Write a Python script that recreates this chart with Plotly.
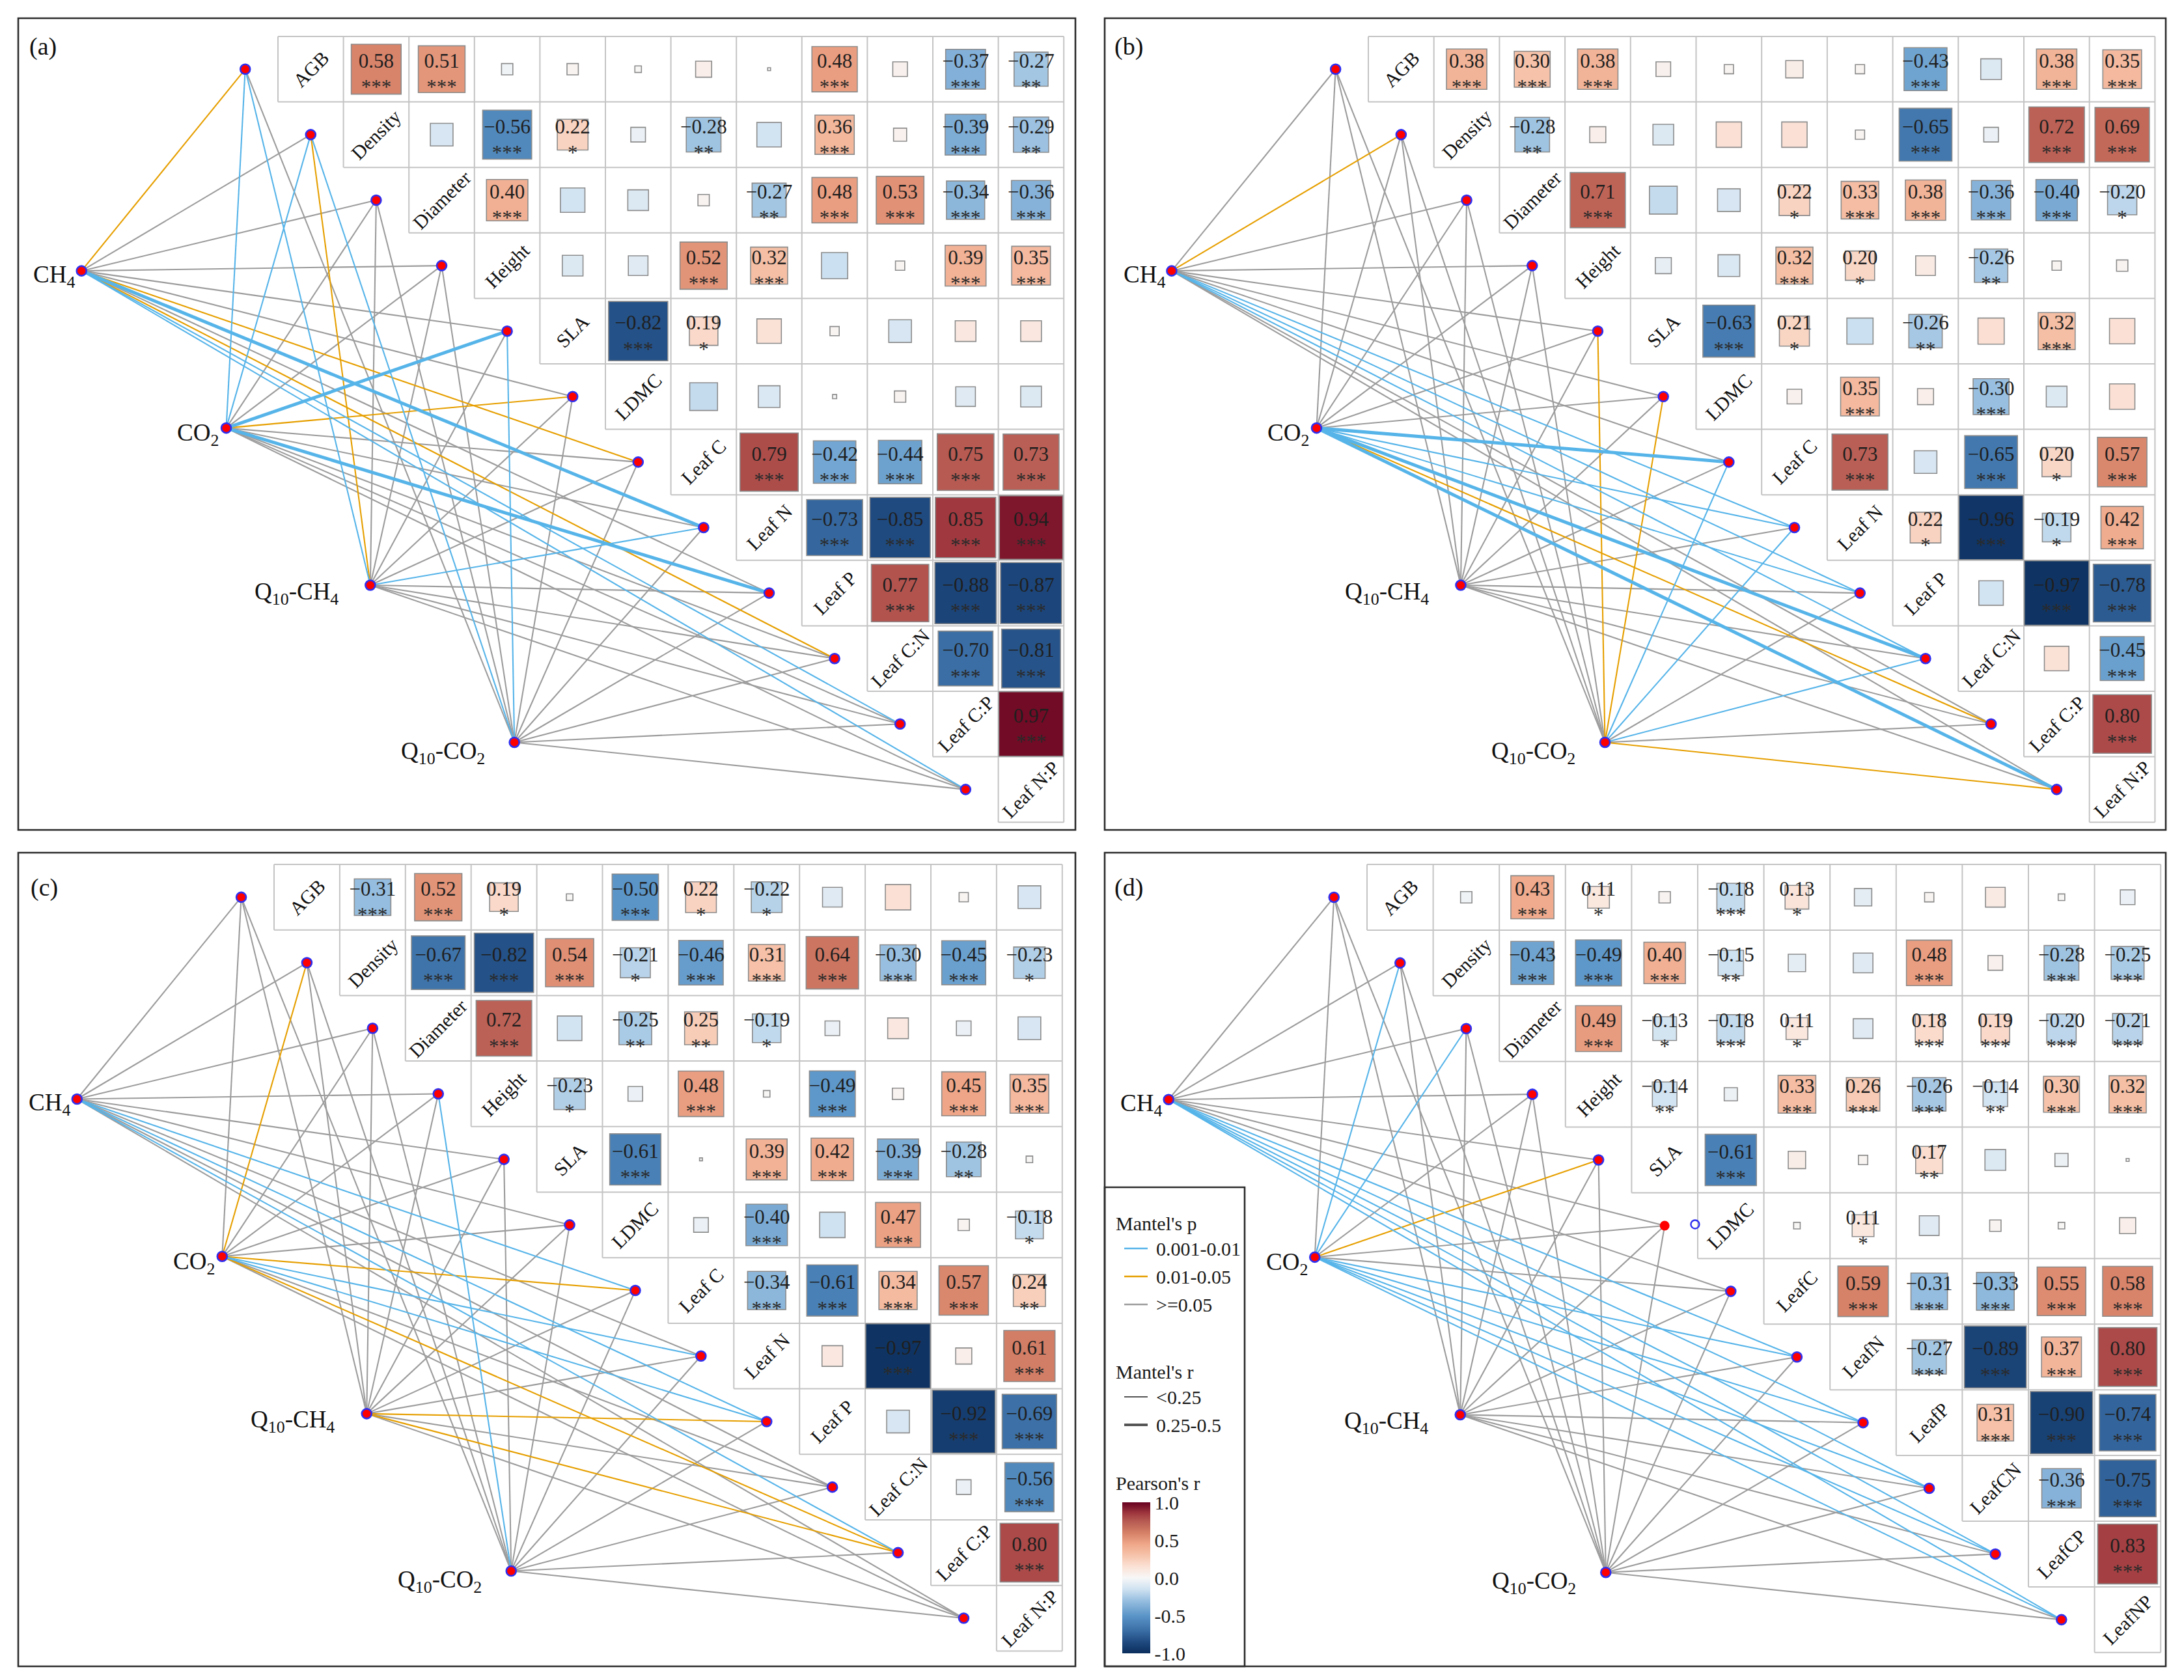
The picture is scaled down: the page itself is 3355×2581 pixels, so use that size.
import math
import plotly.graph_objects as go

W, H = 3355, 2581
FONT = "Liberation Serif"
MINUS = "\u2212"

# ---------------- data ----------------
traits_abc = ["AGB", "Density", "Diameter", "Height", "SLA", "LDMC",
              "Leaf C", "Leaf N", "Leaf P", "Leaf C:N", "Leaf C:P", "Leaf N:P"]
traits_d = ["AGB", "Density", "Diameter", "Height", "SLA", "LDMC",
            "LeafC", "LeafN", "LeafP", "LeafCN", "LeafCP", "LeafNP"]
flux_labels = ["CH<sub>4</sub>", "CO<sub>2</sub>",
               "Q<sub>10</sub>-CH<sub>4</sub>", "Q<sub>10</sub>-CO<sub>2</sub>"]

# Pearson's r, upper triangle, row i holds columns i+1..11
r_a = [
    [0.58, 0.51, -0.03, 0.03, 0.01, 0.06, 0.002, 0.48, 0.05, -0.37, -0.27],
    [-0.12, -0.56, 0.22, -0.05, -0.28, -0.14, 0.36, 0.04, -0.39, -0.29],
    [0.40, -0.14, -0.10, 0.03, -0.27, 0.48, 0.53, -0.34, -0.36],
    [-0.10, -0.09, 0.52, 0.32, -0.16, 0.02, 0.39, 0.35],
    [-0.82, 0.19, 0.14, 0.02, -0.12, 0.10, 0.10],
    [-0.18, -0.11, 0.004, 0.03, -0.09, -0.10],
    [0.79, -0.42, -0.44, 0.75, 0.73],
    [-0.73, -0.85, 0.85, 0.94],
    [0.77, -0.88, -0.87],
    [-0.70, -0.81],
    [0.97],
]
sig_a = [
    ["***", "***", "", "", "", "", "", "***", "", "***", "**"],
    ["", "***", "*", "", "**", "", "***", "", "***", "**"],
    ["***", "", "", "", "**", "***", "***", "***", "***"],
    ["", "", "***", "***", "", "", "***", "***"],
    ["***", "*", "", "", "", "", ""],
    ["", "", "", "", "", ""],
    ["***", "***", "***", "***", "***"],
    ["***", "***", "***", "***"],
    ["***", "***", "***"],
    ["***", "***"],
    ["***"],
]
r_b = [
    [0.38, 0.30, 0.38, 0.05, 0.02, 0.07, 0.02, -0.43, -0.10, 0.38, 0.35],
    [-0.28, 0.06, -0.10, 0.15, 0.15, 0.02, -0.65, -0.05, 0.72, 0.69],
    [0.71, -0.18, -0.12, 0.22, 0.33, 0.38, -0.36, -0.40, -0.20],
    [-0.06, -0.11, 0.32, 0.20, 0.09, -0.26, 0.02, 0.03],
    [-0.63, 0.21, -0.16, -0.26, 0.16, 0.32, 0.15],
    [0.05, 0.35, 0.06, -0.30, -0.10, 0.15],
    [0.73, -0.12, -0.65, 0.20, 0.57],
    [0.22, -0.96, -0.19, 0.42],
    [-0.14, -0.97, -0.78],
    [0.14, -0.45],
    [0.80],
]
sig_b = [
    ["***", "***", "***", "", "", "", "", "***", "", "***", "***"],
    ["**", "", "", "", "", "", "***", "", "***", "***"],
    ["***", "", "", "*", "***", "***", "***", "***", "*"],
    ["", "", "***", "*", "", "**", "", ""],
    ["***", "*", "", "**", "", "***", ""],
    ["", "***", "", "***", "", ""],
    ["***", "", "***", "*", "***"],
    ["*", "***", "*", "***"],
    ["", "***", "***"],
    ["", "***"],
    ["***"],
]
r_c = [
    [-0.31, 0.52, 0.19, 0.01, -0.50, 0.22, -0.22, -0.09, 0.15, 0.02, -0.12],
    [-0.67, -0.82, 0.54, -0.21, -0.46, 0.31, 0.64, -0.30, -0.45, -0.23],
    [0.72, -0.14, -0.25, 0.25, -0.19, -0.05, 0.10, -0.05, -0.12],
    [-0.23, -0.05, 0.48, 0.01, -0.49, 0.03, 0.45, 0.35],
    [-0.61, 0.002, 0.39, 0.42, -0.39, -0.28, 0.01],
    [-0.05, -0.40, -0.15, 0.47, 0.03, -0.18],
    [-0.34, -0.61, 0.34, 0.57, 0.24],
    [0.10, -0.97, 0.06, 0.61],
    [-0.12, -0.92, -0.69],
    [-0.05, -0.56],
    [0.80],
]
sig_c = [
    ["***", "***", "*", "", "***", "*", "*", "", "", "", ""],
    ["***", "***", "***", "*", "***", "***", "***", "***", "***", "*"],
    ["***", "", "**", "**", "*", "", "", "", ""],
    ["*", "", "***", "", "***", "", "***", "***"],
    ["***", "", "***", "***", "***", "**", ""],
    ["", "***", "", "***", "", "*"],
    ["***", "***", "***", "***", "**"],
    ["", "***", "", "***"],
    ["", "***", "***"],
    ["", "***"],
    ["***"],
]
r_d = [
    [-0.03, 0.43, 0.11, 0.03, -0.18, 0.13, -0.07, 0.02, 0.09, 0.01, -0.05],
    [-0.43, -0.49, 0.40, -0.15, -0.07, -0.09, 0.48, 0.05, -0.28, -0.25],
    [0.49, -0.13, -0.18, 0.11, -0.09, 0.18, 0.19, -0.20, -0.21],
    [-0.14, -0.04, 0.33, 0.26, -0.26, -0.14, 0.30, 0.32],
    [-0.61, 0.07, 0.02, 0.17, -0.10, -0.04, 0.002],
    [0.01, 0.11, -0.09, 0.03, 0.01, 0.06],
    [0.59, -0.31, -0.33, 0.55, 0.58],
    [-0.27, -0.89, 0.37, 0.80],
    [0.31, -0.90, -0.74],
    [-0.36, -0.75],
    [0.83],
]
sig_d = [
    ["", "***", "*", "", "***", "*", "", "", "", "", ""],
    ["***", "***", "***", "**", "", "", "***", "", "***", "***"],
    ["***", "*", "***", "*", "", "***", "***", "***", "***"],
    ["**", "", "***", "***", "***", "**", "***", "***"],
    ["***", "", "", "**", "", "", ""],
    ["", "*", "", "", "", ""],
    ["***", "***", "***", "***", "***"],
    ["***", "***", "***", "***"],
    ["***", "***", "***"],
    ["***", "***"],
    ["***"],
]

# Mantel's p class per flux (rows) x trait (chars): b 0.001-0.01, o 0.01-0.05, g >=0.05
mp_a = ["ogggggobgobb", "bbggboggbggg", "bogggggbgggg", "gbggbggggggg"]
mp_b = ["gogggggbbbgg", "ggggggbbbbob", "gggggggggggg", "ggggoobbgbgo"]
mp_c = ["ggggggbgbgbg", "goggggobbgog", "ggggggggogog", "gggbgggggggg"]
mp_d = ["gggggggbbbbb", "gbbgoggbbbbb", "gggggggggggg", "gggggggggggg"]
# Mantel's r class: 0 <0.25, 1 0.25-0.5
mr_a = ["000000010000", "000010001000", "000000000000", "000000000000"]
mr_b = ["000000000000", "000000100101", "000000000000", "000000000000"]
mr_c = ["000000000000", "000000000000", "000000000000", "000000000000"]
mr_d = ["000000000000", "000000000000", "000000000000", "000000000000"]

p_legend = ["0.001-0.01", "0.01-0.05", ">=0.05"]
r_legend = ["<0.25", "0.25-0.5"]
cbar_ticks = [-1.0, -0.5, 0.0, 0.5, 1.0]

# ---------------- styling ----------------
P_COL = {"b": "#56B4E9", "o": "#E69F00", "g": "#9C9C9C"}
R_W = {"0": 2.1, "1": 5.0}
cs_pts = [(-1.0, "#0B2E5C"), (-0.85, "#1F4A80"), (-0.7, "#3A6EA5"), (-0.5, "#5B95C8"),
          (-0.3, "#98BFE0"), (-0.15, "#CFE2F1"), (0.0, "#F7F7F7"), (0.15, "#FBE1D5"),
          (0.3, "#F6C3AA"), (0.45, "#EFA688"), (0.6, "#D47F66"), (0.75, "#B65A52"),
          (0.85, "#A0393F"), (1.0, "#67001F")]
CS = [[(v + 1) / 2, c] for v, c in cs_pts]

# flux node positions in cell units (same layout in every panel)
node_x = [-3.0, -0.79, 1.41, 3.61]
node_y = [3.58, 5.98, 8.38, 10.78]
lab_x = [-3.08, -0.88, 0.94, 3.18]
lab_y = [3.66, 6.08, 8.5, 10.94]

panels = [
    dict(tag="(a)", r=r_a, sig=sig_a, mp=mp_a, mr=mr_a, labels=traits_abc,
         box=(28, 28, 1652, 1275), origin=(427, 56), cell=(100.6, 100.6), tagpos=(43, 72)),
    dict(tag="(b)", r=r_b, sig=sig_b, mp=mp_b, mr=mr_b, labels=traits_abc,
         box=(1697, 28, 3327, 1275), origin=(2102, 56), cell=(100.7, 100.6), tagpos=(1710, 72)),
    dict(tag="(c)", r=r_c, sig=sig_c, mp=mp_c, mr=mr_c, labels=traits_abc,
         box=(28, 1310, 1652, 2560), origin=(421, 1328), cell=(100.9, 100.7), tagpos=(45, 1363)),
    dict(tag="(d)", r=r_d, sig=sig_d, mp=mp_d, mr=mr_d, labels=traits_d,
         box=(1697, 1310, 3327, 2560), origin=(2100, 1328), cell=(101.6, 100.9), tagpos=(1710, 1363)),
]


def fmt(v):
    s = f"{abs(v):.2f}"
    return (MINUS + s) if v < 0 else s


fig = go.Figure()
annotations = []
shapes = []

for k, P in enumerate(panels):
    sfx = "" if k == 0 else str(k + 1)
    xa, ya = "x" + sfx, "y" + sfx
    bx0, by0, bx1, by1 = P["box"]
    ox, oy = P["origin"]
    cx, cy = P["cell"]
    fig.update_layout(**{
        f"xaxis{sfx}": dict(domain=[bx0 / W, bx1 / W], range=[(bx0 - ox) / cx, (bx1 - ox) / cx],
                            visible=False, fixedrange=True, anchor=ya),
        f"yaxis{sfx}": dict(domain=[1 - by1 / H, 1 - by0 / H], range=[(by1 - oy) / cy, (by0 - oy) / cy],
                            visible=False, fixedrange=True, anchor=xa),
    })
    # panel border
    shapes.append(dict(type="rect", xref="paper", yref="paper", x0=bx0 / W, x1=bx1 / W,
                       y0=1 - by1 / H, y1=1 - by0 / H, line=dict(color="#2b2b2b", width=2.6)))
    # grid of the upper triangle
    gx, gy = [], []
    for g in range(13):
        xs = 0 if g == 0 else g - 1
        gx += [xs, 12, None]
        gy += [g, g, None]
        ye = 12 if g == 12 else g + 1
        gx += [g, g, None]
        gy += [0, ye, None]
    fig.add_trace(go.Scatter(x=gx, y=gy, mode="lines", xaxis=xa, yaxis=ya,
                             line=dict(color="#C4C4C4", width=2), hoverinfo="skip"))
    # Mantel links
    for pc in ["g", "o", "b"]:
        for rc in ["0", "1"]:
            lx, ly = [], []
            for n in range(4):
                for t in range(12):
                    if P["mp"][n][t] == pc and P["mr"][n][t] == rc:
                        lx += [node_x[n], t - 0.5, None]
                        ly += [node_y[n], t + 0.5, None]
            if lx:
                fig.add_trace(go.Scatter(x=lx, y=ly, mode="lines", xaxis=xa, yaxis=ya,
                                         line=dict(color=P_COL[pc], width=R_W[rc]), hoverinfo="skip"))
    # correlation squares
    sx, sy, ss, sc = [], [], [], []
    vx, vy, vt, stx, sty, stt = [], [], [], [], [], []
    cmin_px = min(cx, cy)
    for i, row in enumerate(P["r"]):
        for m, v in enumerate(row):
            j = i + 1 + m
            sx.append(j + 0.5)
            sy.append(i + 0.5)
            ss.append(max(cmin_px * math.sqrt(abs(v)), 1.0))
            sc.append(v)
            s = P["sig"][i][m]
            if s:
                vx.append(j + 0.5); vy.append(i + 0.5 - 0.1); vt.append(fmt(v))
                stx.append(j + 0.5); sty.append(i + 0.5 + 0.3); stt.append(s)
    sq = dict(symbol="square", size=ss, color=sc, colorscale=CS, cmin=-1, cmax=1,
              line=dict(color="#8C8C8C", width=1.6), opacity=1)
    if k == 3:
        sq.update(showscale=True, colorbar=dict(
            x=1724 / W, xanchor="left", y=1 - 2540 / H, yanchor="bottom",
            len=232, lenmode="pixels", thickness=43, thicknessmode="pixels",
            outlinewidth=0, xpad=0, ypad=0, ticks="", tickvals=cbar_ticks,
            ticktext=[f"{t:.1f}" for t in cbar_ticks],
            tickfont=dict(family=FONT, size=30, color="#1a1a1a")))
    else:
        sq.update(showscale=False)
    fig.add_trace(go.Scatter(x=sx, y=sy, mode="markers", xaxis=xa, yaxis=ya,
                             marker=sq, hoverinfo="skip"))
    fig.add_trace(go.Scatter(x=vx, y=vy, mode="text", text=vt, xaxis=xa, yaxis=ya,
                             textposition="middle center",
                             textfont=dict(family=FONT, size=31, color="#1f1f1f"), hoverinfo="skip"))
    fig.add_trace(go.Scatter(x=stx, y=sty, mode="text", text=stt, xaxis=xa, yaxis=ya,
                             textposition="middle center",
                             textfont=dict(family=FONT, size=31, color="#2a2a2a"), hoverinfo="skip"))
    # diagonal trait labels
    for i, lab in enumerate(P["labels"]):
        annotations.append(dict(x=i + 0.5, y=i + 0.5, xref=xa, yref=ya, text=lab, showarrow=False,
                                textangle=-45, font=dict(family=FONT, size=30, color="#111111"),
                                xanchor="center", yanchor="middle"))
    # flux labels
    for n in range(4):
        annotations.append(dict(x=lab_x[n], y=lab_y[n], xref=xa, yref=ya, text=flux_labels[n],
                                showarrow=False, xanchor="right", yanchor="middle",
                                font=dict(family=FONT, size=37, color="#111111")))
    # panel tag
    tx, ty = P["tagpos"]
    annotations.append(dict(x=tx / W, y=1 - ty / H, xref="paper", yref="paper", text=P["tag"],
                            showarrow=False, xanchor="left", yanchor="middle",
                            font=dict(family=FONT, size=38, color="#111111")))
    # points
    tx_pts = [t - 0.5 for t in range(12)]
    ty_pts = [t + 0.5 for t in range(12)]
    outline = ["#2F2FF0"] * 12
    widths = [2.6] * 12
    if k == 3:
        outline[5] = "#FF0000"
        widths[5] = 0
        fig.add_trace(go.Scatter(x=[4.96], y=[5.48], mode="markers", xaxis=xa, yaxis=ya,
                                 marker=dict(symbol="circle-open", size=13, color="#2F2FF0",
                                             line=dict(width=2.4)), hoverinfo="skip"))
    fig.add_trace(go.Scatter(x=tx_pts + node_x, y=ty_pts + node_y, mode="markers",
                             xaxis=xa, yaxis=ya, hoverinfo="skip",
                             marker=dict(size=15, color="#FF0000",
                                         line=dict(color=outline + ["#2F2FF0"] * 4,
                                                   width=widths + [2.6] * 4))))

# ---------------- legend box (panel d) ----------------
def px(x):
    return x / W


def py(y):
    return 1 - y / H


shapes.append(dict(type="rect", xref="paper", yref="paper", x0=px(1697), x1=px(1912),
                   y0=py(2560), y1=py(1824), fillcolor="white",
                   line=dict(color="#2b2b2b", width=2.6), layer="below"))
leg_font = dict(family=FONT, size=30, color="#1a1a1a")
annotations.append(dict(x=px(1712), y=py(1879), xref="paper", yref="paper", text="Mantel's p",
                        showarrow=False, xanchor="left", yanchor="middle", font=leg_font))
for q, (lab, col) in enumerate(zip(p_legend, ["b", "o", "g"])):
    yy = 1918 + 43 * q
    shapes.append(dict(type="line", xref="paper", yref="paper", x0=px(1727), x1=px(1763),
                       y0=py(yy), y1=py(yy), line=dict(color=P_COL[col], width=2.6)))
    annotations.append(dict(x=px(1774), y=py(yy), xref="paper", yref="paper", text=lab,
                            showarrow=False, xanchor="left", yanchor="middle", font=leg_font))
annotations.append(dict(x=px(1712), y=py(2107), xref="paper", yref="paper", text="Mantel's r",
                        showarrow=False, xanchor="left", yanchor="middle", font=leg_font))
for q, (lab, wd) in enumerate(zip(r_legend, [2.0, 4.0])):
    yy = 2146 + 43 * q
    shapes.append(dict(type="line", xref="paper", yref="paper", x0=px(1727), x1=px(1763),
                       y0=py(yy), y1=py(yy), line=dict(color="#555555", width=wd)))
    annotations.append(dict(x=px(1774), y=py(yy), xref="paper", yref="paper", text=lab,
                            showarrow=False, xanchor="left", yanchor="middle", font=leg_font))
annotations.append(dict(x=px(1712), y=py(2278), xref="paper", yref="paper", text="Pearson's r",
                        showarrow=False, xanchor="left", yanchor="middle", font=leg_font))

fig.update_layout(width=W, height=H, margin=dict(l=0, r=0, t=0, b=0, pad=0),
                  paper_bgcolor="white", plot_bgcolor="white", showlegend=False,
                  hovermode=False, annotations=annotations, shapes=shapes,
                  font=dict(family=FONT))

fig.write_html("out.html", config={"displayModeBar": False},
               post_script="document.body.style.margin='0';document.body.style.overflow='hidden';")
